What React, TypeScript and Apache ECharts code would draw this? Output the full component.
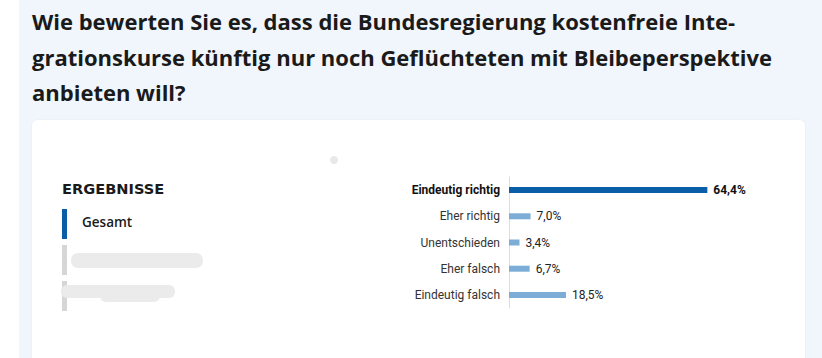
import React, { useEffect, useRef } from "react";
import * as echarts from "echarts";

const categories = ["Eindeutig richtig", "Eher richtig", "Unentschieden", "Eher falsch", "Eindeutig falsch"];
const values = [64.4, 7.0, 3.4, 6.7, 18.5];
const titleLines = [
  "Wie bewerten Sie es, dass die Bundesregierung kostenfreie Inte-",
  "grationskurse künftig nur noch Geflüchteten mit Bleibeperspektive",
  "anbieten will?",
];
const sidebarHeading = "ERGEBNISSE";
const sidebarItems = ["Gesamt"];

const DARK_BLUE = "#0a5ea8";
const LIGHT_BLUE = "#7badd6";

export default function App() {
  const ref = useRef<HTMLDivElement>(null);
  useEffect(() => {
    if (!ref.current) return;
    const chart = echarts.init(ref.current, null, { renderer: "svg" });
    const fmt = (v: number) => v.toFixed(1).replace(".", ",") + "%";
    chart.setOption({
      animation: false,
      backgroundColor: "#ffffff",
      graphic: [
        { type: "rect", shape: { x: 19, y: 0, width: 803, height: 358 }, style: { fill: "#f1f6fc" }, z: -10 },
        { type: "rect", shape: { x: 32, y: 120, width: 773, height: 260, r: 6 }, style: { fill: "#ffffff", shadowBlur: 3, shadowColor: "rgba(0,0,0,0.04)" }, z: -9 },
        ...titleLines.map((t, i) => ({
          type: "text",
          left: 32,
          top: 10 + i * 35.5,
          style: { text: t, font: "bold 22px 'Open Sans', sans-serif", fill: "#1a1a1a" },
        })),
        { type: "text", left: 62, top: 181, style: { text: sidebarHeading, font: "bold 14.6px 'DejaVu Sans', sans-serif", fill: "#1a1a1a" } },
        { type: "rect", shape: { x: 62, y: 209, width: 5, height: 30 }, style: { fill: DARK_BLUE } },
        { type: "text", left: 82, top: 215, style: { text: sidebarItems[0], font: "600 13.5px 'Open Sans', sans-serif", fill: "#1a1a1a" } },
        { type: "rect", shape: { x: 62, y: 245, width: 5, height: 30 }, style: { fill: "#d6d6d6" } },
        { type: "rect", shape: { x: 62, y: 281, width: 5, height: 30 }, style: { fill: "#d6d6d6" } },
        { type: "rect", shape: { x: 71, y: 253, width: 132, height: 15, r: 7 }, style: { fill: "#ebebeb" } },
        { type: "rect", shape: { x: 61, y: 285, width: 114, height: 13, r: 6 }, style: { fill: "#ebebeb" } },
        { type: "rect", shape: { x: 100, y: 290, width: 60, height: 12, r: 6 }, style: { fill: "#ebebeb" } },
        { type: "circle", shape: { cx: 334, cy: 160, r: 4 }, style: { fill: "#e8e8e8" } },
      ],
      grid: { left: 509, top: 177, width: 308, height: 131, containLabel: false },
      xAxis: { type: "value", min: 0, max: 100, show: false },
      yAxis: {
        type: "category",
        data: categories,
        inverse: true,
        axisLine: { show: true, lineStyle: { color: "#dddddd", width: 1 } },
        axisTick: { show: false },
        axisLabel: {
          margin: 9,
          fontFamily: "Roboto, sans-serif",
          fontSize: 12,
          color: "#333333",
          formatter: (v: string) => (v === categories[0] ? "{b|" + v + "}" : v),
          rich: { b: { fontWeight: "bold", color: "#111111", fontSize: 12, fontFamily: "Roboto, sans-serif" } },
        },
      },
      series: [
        {
          type: "bar",
          barWidth: 6,
          data: values.map((v, i) => ({
            value: v,
            itemStyle: { color: i === 0 ? DARK_BLUE : LIGHT_BLUE },
            label: i === 0 ? { fontWeight: "bold", color: "#111111" } : undefined,
          })),
          label: {
            show: true,
            position: "right",
            distance: 6,
            fontFamily: "Roboto, sans-serif",
            fontSize: 12,
            color: "#222222",
            formatter: (p: any) => fmt(p.value),
          },
        },
      ],
    });
    return () => chart.dispose();
  }, []);
  return <div ref={ref} style={{ position: "absolute", left: 0, top: 0, width: 822, height: 358 }} />;
}
